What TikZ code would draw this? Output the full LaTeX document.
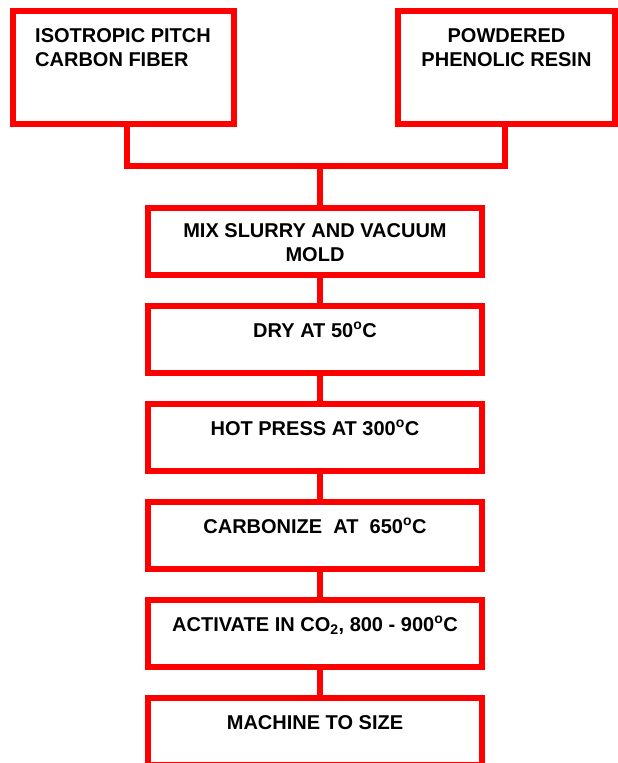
\documentclass[tikz,border=0pt]{standalone}
\usepackage{fontspec}
\setmainfont{Liberation Sans}
\usetikzlibrary{positioning,calc}
\definecolor{FLred}{RGB}{255,0,0}
\tikzset{
  srcbox/.style={draw=FLred,line width=6pt,minimum height=113pt,inner sep=0pt,outer sep=0pt},
  stepbox/.style={draw=FLred,line width=6pt,minimum width=334pt,minimum height=67pt,inner sep=0pt,outer sep=0pt},
  lbl/.style={font=\fontsize{20}{23.5}\selectfont\bfseries,align=center,inner sep=0pt,anchor=base},
  link/.style={draw=FLred,line width=6pt}
}

\begin{document}
\begin{tikzpicture}[node distance=31pt]
  \useasboundingbox (0,0) rectangle (618pt,-763pt);
  \clip (0,0) rectangle (618pt,-763pt);
  % raw materials
  \node[srcbox,minimum width=221pt] (fiber) at (123.5pt,-67.5pt) {};
  \node[srcbox,minimum width=217pt] (resin) at (506.5pt,-67.5pt) {};
  \node[lbl,align=left,anchor=base west] (fibertxt) at ($(fiber.north west)+(22pt,-55pt)$) {ISOTROPIC PITCH\\CARBON FIBER};
  \node[lbl] (resintxt) at ($(resin.north)+(0,-55pt)$) {POWDERED\\PHENOLIC RESIN};
  % process steps
  \node[stepbox] (mix) at (315pt,-241.5pt) {};
  \node[stepbox,below=of mix] (dry) {};
  \node[stepbox,below=of dry] (hot) {};
  \node[stepbox,below=of hot] (carb) {};
  \node[stepbox,below=of carb] (act) {};
  \node[stepbox,below=of act] (mach) {};
  \node[lbl] (mixtxt) at ($(mix.north)+(0,-53pt)$) {MIX SLURRY AND VACUUM\\MOLD};
  \node[lbl] (drytxt) at ($(dry.north)+(0,-31pt)$) {DRY AT 50\textsuperscript{o}C};
  \node[lbl] (hottxt) at ($(hot.north)+(0,-31pt)$) {HOT PRESS AT 300\textsuperscript{o}C};
  \node[lbl] (carbtxt) at ($(carb.north)+(0,-31pt)$) {CARBONIZE\ \ AT\ \ 650\textsuperscript{o}C};
  \node[lbl] (acttxt) at ($(act.north)+(0,-31pt)$) {ACTIVATE IN CO\textsubscript{2}, 800 - 900\textsuperscript{o}C};
  \node[lbl] (machtxt) at ($(mach.north)+(0,-31pt)$) {MACHINE TO SIZE};
  % connectors
  \coordinate (bar) at ($(mix.north)+(4.5pt,42.5pt)$);
  \draw[link] ([xshift=3pt]fiber.south) |- (bar) -| ([xshift=-2pt]resin.south);
  \draw[link] (bar) -- (bar |- mix.north);
  \foreach \a/\b in {mix/dry,dry/hot,hot/carb,carb/act,act/mach}
    \draw[link] (bar |- \a.south) -- (bar |- \b.north);
\end{tikzpicture}
\end{document}
